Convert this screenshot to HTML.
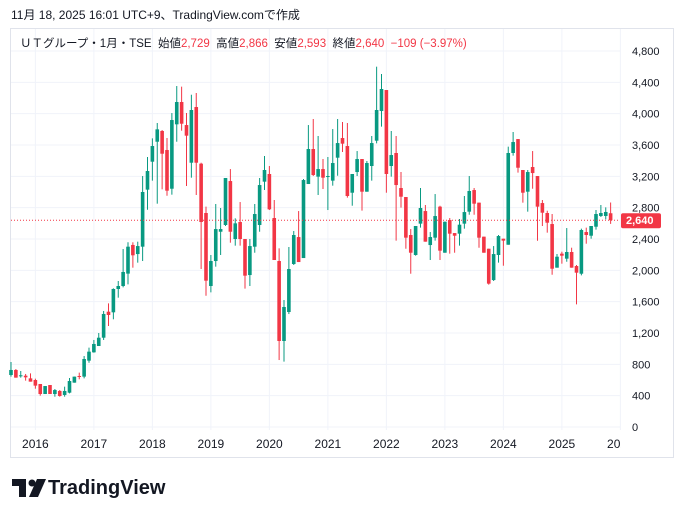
<!DOCTYPE html>
<html><head><meta charset="utf-8">
<style>
body{margin:0;background:#fff;width:684px;height:518px;overflow:hidden;font-family:"Liberation Sans","Noto Sans CJK JP",sans-serif;}
#hdr{position:absolute;left:11px;top:6px;font-size:12px;color:#131722;}
#frame{position:absolute;left:10px;top:28px;width:664px;height:430px;border:1px solid #e0e3eb;box-sizing:border-box;}
#legend{position:absolute;left:20px;top:35px;font-size:11.5px;color:#131722;white-space:nowrap;}
#legend .v{color:#f23645;}
#logo{position:absolute;left:48px;top:477px;font-size:20px;font-weight:bold;color:#131722;}
svg{position:absolute;left:0;top:0;}
</style></head><body>
<div id="hdr">11月 18, 2025 16:01 UTC+9、TradingView.comで作成</div>
<div id="frame"></div>
<svg id="chart" width="684" height="518"></svg>
<div id="legend">ＵＴグループ・1月・TSE&nbsp; 始値<span class="v">2,729</span>&nbsp; 高値<span class="v">2,866</span>&nbsp; 安値<span class="v">2,593</span>&nbsp; 終値<span class="v">2,640</span>&nbsp; <span class="v">−109 (−3.97%)</span></div>
<svg width="36" height="22" style="left:12px;top:479px">
<path d="M0 0H14V18H7V7H0Z" fill="#131722"/><circle cx="20" cy="4" r="3.5" fill="#131722"/><path d="M25 0H34L26 18H17Z" fill="#131722"/></svg>
<div id="logo">TradingView</div>
<script>
const opens=[664,728,651,655,621,600,549,421,536,421,460,409,438,566,651,643,847,953,1034,1140,1472,1464,1762,1800,1958,2324,2208,2302,3030,3387,3642,3779,3536,3042,3864,4149,3855,3374,4085,3362,2732,1800,2119,2493,2579,3140,2400,2617,2400,1940,2302,2579,3132,3230,2668,2119,1098,1468,2081,2425,2157,3102,3549,3196,3293,3196,3145,3438,3689,3587,2991,3255,3421,3004,3332,3655,4034,4302,3332,3498,3051,2936,2451,2196,2596,2757,2323,2417,2813,2225,2642,2476,2468,2596,2749,3025,2864,2430,2276,1876,2196,2404,2327,3498,3676,3281,3004,3319,3204,2859,2732,2591,2034,2213,2149,2234,2055,1957,2489,2442,2557,2694,2694,2729];
const highs=[830,740,715,677,685,617,549,523,536,485,472,515,626,643,694,906,1013,1111,1200,1481,1579,1770,1864,2272,2358,2358,2366,3204,3447,3685,3881,3791,3689,4008,4353,4345,4008,4242,4264,3374,2813,2196,2847,2796,3179,3293,2664,2872,2400,2400,2847,3179,3459,3332,2898,2281,1621,2298,2502,2757,3166,3855,3932,3715,3421,3447,3804,3932,3893,3881,3230,3523,3421,3396,3715,4600,4506,4302,3779,3715,3255,2936,2527,2566,3051,2834,2489,2974,2825,2621,2668,2476,2655,2949,3204,3051,2864,2430,2276,2310,2451,2404,3579,3766,3676,3281,3281,3523,3204,2898,2761,2719,2208,2238,2540,2289,2068,2532,2545,2566,2770,2834,2804,2866];
const lows=[643,630,630,592,579,489,400,421,421,387,387,387,430,566,609,621,821,949,1034,1111,1289,1375,1651,1783,1821,2034,2098,2119,2774,3145,2851,3034,2953,2966,3642,3783,3076,3183,2962,2017,1676,1719,2047,2196,2566,2353,2315,2315,1766,1800,2225,2493,3025,2770,2132,855,834,1442,2068,2106,2157,3102,3204,2962,3038,2770,3081,3208,3510,2928,2825,3204,2762,3004,3145,3621,3834,2991,3196,2379,2800,2276,1957,2187,2545,2366,2132,2379,2132,2225,2213,2225,2315,2532,2710,2710,2289,2225,1817,1864,2098,2059,2327,3464,3247,2864,2749,3042,2378,2566,2481,1944,2034,2085,2110,2034,1566,1936,2340,2404,2519,2681,2651,2593];
const closes=[728,630,660,634,579,528,421,523,421,472,396,460,587,643,643,868,962,1060,1140,1443,1430,1762,1800,1979,2302,2192,2310,3000,3268,3587,3800,3489,3017,3919,4149,3872,3719,4047,3374,2617,1868,2119,2527,2527,3179,2493,2600,2400,1932,2310,2719,3089,3281,2779,2132,1098,1532,2017,2451,2106,3153,3549,3217,3293,3183,3204,3370,3625,3617,2949,3230,3421,3004,3370,3625,4047,4315,3230,3472,3089,2940,2417,2225,2566,2796,2366,2425,2693,2251,2621,2468,2442,2583,2744,3013,2851,2417,2225,1830,2208,2438,2379,3498,3638,3310,2991,3255,3242,2813,2736,2608,2021,2174,2187,2234,2034,1970,2515,2451,2566,2719,2732,2745,2640];
const yTicks=[0,400,800,1200,1600,2000,2400,2800,3200,3600,4000,4400,4800];
const yTickLabels=["0","400","800","1,200","1,600","2,000","2,400","2,800","3,200","3,600","4,000","4,400","4,800"];
const xYears=["2016","2017","2018","2019","2020","2021","2022","2023","2024","2025","2026"];
const lastPrice=2640;
const NS="http://www.w3.org/2000/svg";
const svg=document.getElementById('chart');
const y=v=>427-v*0.07833;
const x=i=>11+i*4.875;
function mk(t,a,p){const e=document.createElementNS(NS,t);for(const k in a)e.setAttribute(k,a[k]);(p||svg).appendChild(e);return e;}
yTicks.forEach((t,i)=>{
 const g=mk('line',{x1:11,x2:620,y1:y(t),y2:y(t),stroke:'#f0f3fa','stroke-width':1});
 
 
 const tx=mk('text',{x:632,y:y(t)+4,'font-size':11,fill:'#131722','font-family':'Liberation Sans, sans-serif'});
 tx.textContent=yTickLabels[i];
 
 
});
xYears.forEach((yr,k)=>{
 const xi=x(5+12*k);
 const g=mk('line',{x1:xi,x2:xi,y1:29,y2:430,stroke:'#f0f3fa','stroke-width':1});
 
 
 const tx=mk('text',{x:xi,y:448,'font-size':12,fill:'#131722','text-anchor':'middle','font-family':'Liberation Sans, sans-serif'});
 tx.textContent=yr;
 
 
});
mk('rect',{x:621,y:432,width:52,height:24,fill:'#fff'});
closes.forEach((c,i)=>{
 const o=opens[i],up=c>=o,col=up?'#089981':'#f23645';
 const w=mk('line',{x1:x(i),x2:x(i),y1:y(highs[i]),y2:y(lows[i]),stroke:col,'stroke-width':1});
 
 
 const top=y(Math.max(o,c)),h=Math.max(1,Math.abs(y(o)-y(c)));
 const b=mk('rect',{x:x(i)-1.8,y:top,width:3.6,height:h,fill:col});
 
 
});
const pl=mk('line',{x1:11,x2:620,y1:y(lastPrice),y2:y(lastPrice),stroke:'#f23645','stroke-width':1,'stroke-dasharray':'1 2'});


const pb=mk('rect',{x:621,y:y(lastPrice)-7,width:40,height:15,fill:'#f23645',rx:2});


const pt=mk('text',{x:626,y:y(lastPrice)+4,'font-size':11,'font-weight':'bold',fill:'#fff','font-family':'Liberation Sans, sans-serif'});
pt.textContent='2,640';


</script>
</body></html>
